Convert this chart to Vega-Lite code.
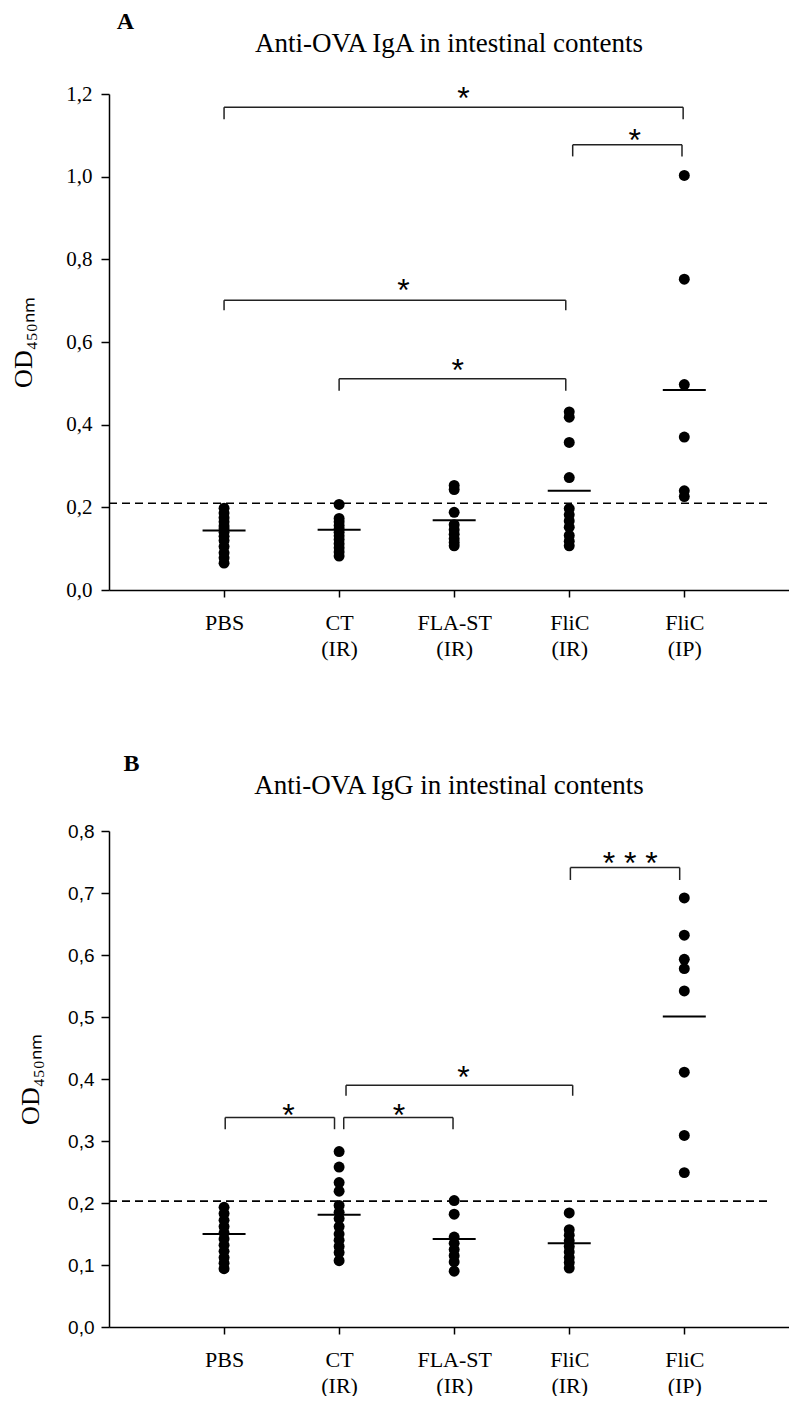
{
  "$schema": "https://vega.github.io/schema/vega-lite/v6.json",
  "padding": {"left": 10, "top": 10, "right": 0, "bottom": 0},
  "spacing": 93,
  "config": {
    "view": {"stroke": null},
    "axis": {
      "grid": false,
      "domainColor": "black",
      "domainWidth": 1.5,
      "tickColor": "black",
      "tickWidth": 1.5,
      "tickSize": 8,
      "labelColor": "black",
      "titleColor": "black",
      "labelFont": "Liberation Serif",
      "titleFont": "Liberation Serif",
      "titleFontWeight": "normal"
    },
    "title": {"font": "Liberation Serif", "color": "black", "fontWeight": "normal"},
    "text": {"font": "Liberation Sans"}
  },
  "datasets": {
    "pointsA": [
      {"group": "PBS", "group_index": 1, "od": 0.198},
      {"group": "PBS", "group_index": 1, "od": 0.186},
      {"group": "PBS", "group_index": 1, "od": 0.175},
      {"group": "PBS", "group_index": 1, "od": 0.165},
      {"group": "PBS", "group_index": 1, "od": 0.155},
      {"group": "PBS", "group_index": 1, "od": 0.148},
      {"group": "PBS", "group_index": 1, "od": 0.14},
      {"group": "PBS", "group_index": 1, "od": 0.13},
      {"group": "PBS", "group_index": 1, "od": 0.12},
      {"group": "PBS", "group_index": 1, "od": 0.105},
      {"group": "PBS", "group_index": 1, "od": 0.09},
      {"group": "PBS", "group_index": 1, "od": 0.078},
      {"group": "PBS", "group_index": 1, "od": 0.065},
      {"group": "CT (IR)", "group_index": 2, "od": 0.207},
      {"group": "CT (IR)", "group_index": 2, "od": 0.173},
      {"group": "CT (IR)", "group_index": 2, "od": 0.165},
      {"group": "CT (IR)", "group_index": 2, "od": 0.156},
      {"group": "CT (IR)", "group_index": 2, "od": 0.148},
      {"group": "CT (IR)", "group_index": 2, "od": 0.14},
      {"group": "CT (IR)", "group_index": 2, "od": 0.131},
      {"group": "CT (IR)", "group_index": 2, "od": 0.122},
      {"group": "CT (IR)", "group_index": 2, "od": 0.112},
      {"group": "CT (IR)", "group_index": 2, "od": 0.102},
      {"group": "CT (IR)", "group_index": 2, "od": 0.092},
      {"group": "CT (IR)", "group_index": 2, "od": 0.082},
      {"group": "FLA-ST (IR)", "group_index": 3, "od": 0.253},
      {"group": "FLA-ST (IR)", "group_index": 3, "od": 0.243},
      {"group": "FLA-ST (IR)", "group_index": 3, "od": 0.188},
      {"group": "FLA-ST (IR)", "group_index": 3, "od": 0.158},
      {"group": "FLA-ST (IR)", "group_index": 3, "od": 0.146},
      {"group": "FLA-ST (IR)", "group_index": 3, "od": 0.135},
      {"group": "FLA-ST (IR)", "group_index": 3, "od": 0.124},
      {"group": "FLA-ST (IR)", "group_index": 3, "od": 0.115},
      {"group": "FLA-ST (IR)", "group_index": 3, "od": 0.107},
      {"group": "FliC (IR)", "group_index": 4, "od": 0.431},
      {"group": "FliC (IR)", "group_index": 4, "od": 0.418},
      {"group": "FliC (IR)", "group_index": 4, "od": 0.357},
      {"group": "FliC (IR)", "group_index": 4, "od": 0.272},
      {"group": "FliC (IR)", "group_index": 4, "od": 0.197},
      {"group": "FliC (IR)", "group_index": 4, "od": 0.182},
      {"group": "FliC (IR)", "group_index": 4, "od": 0.167},
      {"group": "FliC (IR)", "group_index": 4, "od": 0.152},
      {"group": "FliC (IR)", "group_index": 4, "od": 0.132},
      {"group": "FliC (IR)", "group_index": 4, "od": 0.118},
      {"group": "FliC (IR)", "group_index": 4, "od": 0.107},
      {"group": "FliC (IP)", "group_index": 5, "od": 1.003},
      {"group": "FliC (IP)", "group_index": 5, "od": 0.752},
      {"group": "FliC (IP)", "group_index": 5, "od": 0.497},
      {"group": "FliC (IP)", "group_index": 5, "od": 0.37},
      {"group": "FliC (IP)", "group_index": 5, "od": 0.24},
      {"group": "FliC (IP)", "group_index": 5, "od": 0.226}
    ],
    "meansA": [
      {"group": "PBS", "group_index": 1, "mean": 0.144},
      {"group": "CT (IR)", "group_index": 2, "mean": 0.146},
      {"group": "FLA-ST (IR)", "group_index": 3, "mean": 0.169},
      {"group": "FliC (IR)", "group_index": 4, "mean": 0.24},
      {"group": "FliC (IP)", "group_index": 5, "mean": 0.484}
    ],
    "cutoffA": [{"cutoff": 0.21}],
    "bracketsA": [
      {"from": 1.0, "to": 4.99, "y": 1.168, "drop": 1.139, "star_x": 3.08, "star_y": 1.209, "label": "*"},
      {"from": 4.03, "to": 4.98, "y": 1.077, "drop": 1.049, "star_x": 4.57, "star_y": 1.109, "label": "*"},
      {"from": 1.0, "to": 3.97, "y": 0.701, "drop": 0.677, "star_x": 2.56, "star_y": 0.744, "label": "*"},
      {"from": 2.0, "to": 3.97, "y": 0.511, "drop": 0.482, "star_x": 3.03, "star_y": 0.552, "label": "*"}
    ],
    "pointsB": [
      {"group": "PBS", "group_index": 1, "od": 0.193},
      {"group": "PBS", "group_index": 1, "od": 0.183},
      {"group": "PBS", "group_index": 1, "od": 0.172},
      {"group": "PBS", "group_index": 1, "od": 0.162},
      {"group": "PBS", "group_index": 1, "od": 0.152},
      {"group": "PBS", "group_index": 1, "od": 0.142},
      {"group": "PBS", "group_index": 1, "od": 0.132},
      {"group": "PBS", "group_index": 1, "od": 0.122},
      {"group": "PBS", "group_index": 1, "od": 0.112},
      {"group": "PBS", "group_index": 1, "od": 0.103},
      {"group": "PBS", "group_index": 1, "od": 0.094},
      {"group": "CT (IR)", "group_index": 2, "od": 0.283},
      {"group": "CT (IR)", "group_index": 2, "od": 0.258},
      {"group": "CT (IR)", "group_index": 2, "od": 0.233},
      {"group": "CT (IR)", "group_index": 2, "od": 0.219},
      {"group": "CT (IR)", "group_index": 2, "od": 0.196},
      {"group": "CT (IR)", "group_index": 2, "od": 0.185},
      {"group": "CT (IR)", "group_index": 2, "od": 0.175},
      {"group": "CT (IR)", "group_index": 2, "od": 0.162},
      {"group": "CT (IR)", "group_index": 2, "od": 0.15},
      {"group": "CT (IR)", "group_index": 2, "od": 0.14},
      {"group": "CT (IR)", "group_index": 2, "od": 0.13},
      {"group": "CT (IR)", "group_index": 2, "od": 0.12},
      {"group": "CT (IR)", "group_index": 2, "od": 0.107},
      {"group": "FLA-ST (IR)", "group_index": 3, "od": 0.204},
      {"group": "FLA-ST (IR)", "group_index": 3, "od": 0.182},
      {"group": "FLA-ST (IR)", "group_index": 3, "od": 0.145},
      {"group": "FLA-ST (IR)", "group_index": 3, "od": 0.135},
      {"group": "FLA-ST (IR)", "group_index": 3, "od": 0.125},
      {"group": "FLA-ST (IR)", "group_index": 3, "od": 0.115},
      {"group": "FLA-ST (IR)", "group_index": 3, "od": 0.105},
      {"group": "FLA-ST (IR)", "group_index": 3, "od": 0.09},
      {"group": "FliC (IR)", "group_index": 4, "od": 0.184},
      {"group": "FliC (IR)", "group_index": 4, "od": 0.157},
      {"group": "FliC (IR)", "group_index": 4, "od": 0.148},
      {"group": "FliC (IR)", "group_index": 4, "od": 0.139},
      {"group": "FliC (IR)", "group_index": 4, "od": 0.13},
      {"group": "FliC (IR)", "group_index": 4, "od": 0.121},
      {"group": "FliC (IR)", "group_index": 4, "od": 0.112},
      {"group": "FliC (IR)", "group_index": 4, "od": 0.104},
      {"group": "FliC (IR)", "group_index": 4, "od": 0.095},
      {"group": "FliC (IP)", "group_index": 5, "od": 0.692},
      {"group": "FliC (IP)", "group_index": 5, "od": 0.632},
      {"group": "FliC (IP)", "group_index": 5, "od": 0.593},
      {"group": "FliC (IP)", "group_index": 5, "od": 0.578},
      {"group": "FliC (IP)", "group_index": 5, "od": 0.542},
      {"group": "FliC (IP)", "group_index": 5, "od": 0.411},
      {"group": "FliC (IP)", "group_index": 5, "od": 0.309},
      {"group": "FliC (IP)", "group_index": 5, "od": 0.249}
    ],
    "meansB": [
      {"group": "PBS", "group_index": 1, "mean": 0.15},
      {"group": "CT (IR)", "group_index": 2, "mean": 0.181},
      {"group": "FLA-ST (IR)", "group_index": 3, "mean": 0.142},
      {"group": "FliC (IR)", "group_index": 4, "mean": 0.135},
      {"group": "FliC (IP)", "group_index": 5, "mean": 0.501}
    ],
    "cutoffB": [{"cutoff": 0.203}],
    "bracketsB": [
      {"from": 1.01, "to": 1.96, "y": 0.338, "drop": 0.319, "star_x": 1.56, "star_y": 0.355, "label": "*"},
      {"from": 2.04, "to": 2.99, "y": 0.338, "drop": 0.319, "star_x": 2.52, "star_y": 0.355, "label": "*"},
      {"from": 2.06, "to": 4.03, "y": 0.39, "drop": 0.373, "star_x": 3.08, "star_y": 0.416, "label": "*"},
      {"from": 4.01, "to": 4.96, "y": 0.741, "drop": 0.721, "star_x": 4.53, "star_y": 0.761, "label": "*  *  *"}
    ]
  },
  "vconcat": [
    {
      "title": {"text": "A", "anchor": "start", "fontWeight": "bold", "fontSize": 24, "dx": 106, "offset": -4},
      "vconcat": [
        {
          "width": 680,
          "height": 496,
          "title": {"text": "Anti-OVA IgA in intestinal contents", "anchor": "middle", "frame": "group", "fontSize": 27, "offset": 25},
          "layer": [
            {
              "data": {"name": "cutoffA"},
              "mark": {"type": "rule", "strokeDash": [8, 5], "strokeWidth": 1.6, "color": "black"},
              "encoding": {
                "x": {"datum": 0, "type": "quantitative", "scale": {"domain": [0, 5.91], "nice": false, "zero": false}},
                "x2": {"datum": 5.72},
                "y": {"field": "cutoff", "type": "quantitative", "scale": {"domain": [0, 1.2], "nice": false}}
              }
            },
            {
              "data": {"name": "pointsA"},
              "mark": {"type": "circle", "size": 120, "opacity": 1, "color": "black"},
              "encoding": {
                "x": {
                  "field": "group_index", "type": "quantitative",
                  "axis": {
                    "values": [1, 2, 3, 4, 5], "title": null, "tickSize": 7, "labelFontSize": 22,
                    "labelLineHeight": 26, "labelPadding": 15, "labelFlush": false, "labelOverlap": false,
                    "labelExpr": "datum.value == 1 ? 'PBS' : datum.value == 2 ? ['CT', '(IR)'] : datum.value == 3 ? ['FLA-ST', '(IR)'] : datum.value == 4 ? ['FliC', '(IR)'] : ['FliC', '(IP)']"
                  }
                },
                "y": {
                  "field": "od", "type": "quantitative",
                  "axis": {
                    "values": [0, 0.2, 0.4, 0.6, 0.8, 1.0, 1.2], "title": "OD₄₅₀ₙₘ", "titleFontSize": 26,
                    "titlePadding": 29, "labelFontSize": 21, "labelPadding": 9,
                    "labelExpr": "replace(format(datum.value, '.1f'), '.', ',')"
                  }
                }
              }
            },
            {
              "data": {"name": "meansA"},
              "mark": {"type": "tick", "orient": "horizontal", "size": 43, "thickness": 2, "color": "black", "opacity": 1},
              "encoding": {
                "x": {"field": "group_index", "type": "quantitative"},
                "y": {"field": "mean", "type": "quantitative"}
              }
            },
            {
              "data": {"name": "bracketsA"},
              "mark": {"type": "rule", "strokeWidth": 1.5, "color": "#222"},
              "encoding": {
                "x": {"field": "from", "type": "quantitative"},
                "x2": {"field": "to"},
                "y": {"field": "y", "type": "quantitative"}
              }
            },
            {
              "data": {"name": "bracketsA"},
              "mark": {"type": "rule", "strokeWidth": 1.5, "color": "#222"},
              "encoding": {
                "x": {"field": "from", "type": "quantitative"},
                "y": {"field": "drop", "type": "quantitative"},
                "y2": {"field": "y"}
              }
            },
            {
              "data": {"name": "bracketsA"},
              "mark": {"type": "rule", "strokeWidth": 1.5, "color": "#222"},
              "encoding": {
                "x": {"field": "to", "type": "quantitative"},
                "y": {"field": "drop", "type": "quantitative"},
                "y2": {"field": "y"}
              }
            },
            {
              "data": {"name": "bracketsA"},
              "mark": {"type": "text", "fontSize": 32, "baseline": "middle", "dy": 9, "color": "black"},
              "encoding": {
                "x": {"field": "star_x", "type": "quantitative"},
                "y": {"field": "star_y", "type": "quantitative"},
                "text": {"field": "label"}
              }
            }
          ]
        }
      ]
    },
    {
      "title": {"text": "B", "anchor": "start", "fontWeight": "bold", "fontSize": 24, "dx": 106, "offset": -4},
      "vconcat": [
        {
          "width": 680,
          "height": 496,
          "title": {"text": "Anti-OVA IgG in intestinal contents", "anchor": "middle", "frame": "group", "fontSize": 27, "offset": 22},
          "layer": [
            {
              "data": {"name": "cutoffB"},
              "mark": {"type": "rule", "strokeDash": [8, 5], "strokeWidth": 1.6, "color": "black"},
              "encoding": {
                "x": {"datum": 0, "type": "quantitative", "scale": {"domain": [0, 5.91], "nice": false, "zero": false}},
                "x2": {"datum": 5.72},
                "y": {"field": "cutoff", "type": "quantitative", "scale": {"domain": [0, 0.8], "nice": false}}
              }
            },
            {
              "data": {"name": "pointsB"},
              "mark": {"type": "circle", "size": 120, "opacity": 1, "color": "black"},
              "encoding": {
                "x": {
                  "field": "group_index", "type": "quantitative",
                  "axis": {
                    "values": [1, 2, 3, 4, 5], "title": null, "tickSize": 7, "labelFontSize": 22,
                    "labelLineHeight": 26, "labelPadding": 15, "labelFlush": false, "labelOverlap": false,
                    "labelExpr": "datum.value == 1 ? 'PBS' : datum.value == 2 ? ['CT', '(IR)'] : datum.value == 3 ? ['FLA-ST', '(IR)'] : datum.value == 4 ? ['FliC', '(IR)'] : ['FliC', '(IP)']"
                  }
                },
                "y": {
                  "field": "od", "type": "quantitative",
                  "axis": {
                    "values": [0, 0.1, 0.2, 0.3, 0.4, 0.5, 0.6, 0.7, 0.8], "title": "OD₄₅₀ₙₘ", "titleFontSize": 26,
                    "titlePadding": 24, "labelFontSize": 19, "labelFont": "Liberation Sans", "labelPadding": 7,
                    "labelExpr": "replace(format(datum.value, '.1f'), '.', ',')"
                  }
                }
              }
            },
            {
              "data": {"name": "meansB"},
              "mark": {"type": "tick", "orient": "horizontal", "size": 43, "thickness": 2, "color": "black", "opacity": 1},
              "encoding": {
                "x": {"field": "group_index", "type": "quantitative"},
                "y": {"field": "mean", "type": "quantitative"}
              }
            },
            {
              "data": {"name": "bracketsB"},
              "mark": {"type": "rule", "strokeWidth": 1.5, "color": "#222"},
              "encoding": {
                "x": {"field": "from", "type": "quantitative"},
                "x2": {"field": "to"},
                "y": {"field": "y", "type": "quantitative"}
              }
            },
            {
              "data": {"name": "bracketsB"},
              "mark": {"type": "rule", "strokeWidth": 1.5, "color": "#222"},
              "encoding": {
                "x": {"field": "from", "type": "quantitative"},
                "y": {"field": "drop", "type": "quantitative"},
                "y2": {"field": "y"}
              }
            },
            {
              "data": {"name": "bracketsB"},
              "mark": {"type": "rule", "strokeWidth": 1.5, "color": "#222"},
              "encoding": {
                "x": {"field": "to", "type": "quantitative"},
                "y": {"field": "drop", "type": "quantitative"},
                "y2": {"field": "y"}
              }
            },
            {
              "data": {"name": "bracketsB"},
              "mark": {"type": "text", "fontSize": 32, "baseline": "middle", "dy": 9, "color": "black"},
              "encoding": {
                "x": {"field": "star_x", "type": "quantitative"},
                "y": {"field": "star_y", "type": "quantitative"},
                "text": {"field": "label"}
              }
            }
          ]
        }
      ]
    }
  ]
}
